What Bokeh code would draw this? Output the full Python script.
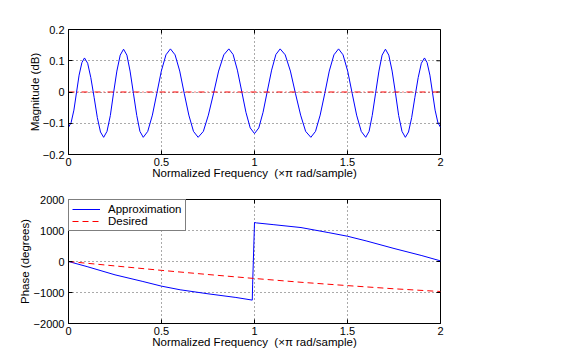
import math
from bokeh.plotting import figure
from bokeh.layouts import column
from bokeh.models import Range1d, FixedTicker, Legend, LegendItem
from bokeh.embed import file_html
from bokeh.resources import INLINE

# ---------------- data ----------------
freq_mag = [
    0.000, 0.014, 0.029, 0.043, 0.057, 0.072, 0.086,
    0.103, 0.120, 0.138, 0.155, 0.172, 0.189,
    0.207, 0.225, 0.242, 0.260, 0.278, 0.296,
    0.314, 0.331, 0.349, 0.367, 0.384, 0.402,
    0.426, 0.451, 0.475, 0.499, 0.524, 0.548,
    0.573, 0.598, 0.622, 0.647, 0.672, 0.697,
    0.725, 0.752, 0.780, 0.807, 0.835, 0.862,
    0.885, 0.908, 0.931, 0.954, 0.977, 1.000,
    1.023, 1.046, 1.069, 1.092, 1.115, 1.138,
    1.165, 1.193, 1.220, 1.248, 1.275, 1.303,
    1.328, 1.353, 1.378, 1.402, 1.427, 1.452,
    1.476, 1.501, 1.525, 1.549, 1.574, 1.598,
    1.616, 1.633, 1.651, 1.669, 1.686, 1.704,
    1.722, 1.740, 1.758, 1.775, 1.793, 1.811,
    1.828, 1.845, 1.862, 1.880, 1.897, 1.914,
    1.928, 1.943, 1.957, 1.971, 1.986, 2.000,
]
mag_db = [
    -0.113, -0.098, -0.058, -0.002, 0.054, 0.094, 0.109,
    0.092, 0.046, -0.018, -0.082, -0.128, -0.145,
    -0.126, -0.075, -0.004, 0.067, 0.118, 0.137,
    0.118, 0.067, -0.004, -0.075, -0.126, -0.145,
    -0.126, -0.074, -0.004, 0.067, 0.119, 0.138,
    0.119, 0.067, -0.004, -0.074, -0.126, -0.145,
    -0.126, -0.074, -0.004, 0.067, 0.119, 0.138,
    0.120, 0.070, 0.003, -0.065, -0.115, -0.133,
    -0.115, -0.065, 0.003, 0.070, 0.120, 0.138,
    0.119, 0.067, -0.004, -0.074, -0.126, -0.145,
    -0.126, -0.074, -0.004, 0.067, 0.119, 0.138,
    0.119, 0.067, -0.004, -0.074, -0.126, -0.145,
    -0.126, -0.075, -0.004, 0.067, 0.118, 0.137,
    0.118, 0.067, -0.004, -0.075, -0.126, -0.145,
    -0.128, -0.082, -0.018, 0.046, 0.092, 0.109,
    0.094, 0.054, -0.002, -0.058, -0.098, -0.113,
]
freq_mag_desired = [0.0, 2.0]
mag_desired = [0.0, 0.0]

freq_phase = [0.0, 0.1, 0.25, 0.4, 0.5, 0.6, 0.75, 0.9, 0.988, 0.99,
              1.0, 1.01, 1.1, 1.25, 1.4, 1.5, 1.6, 1.75, 1.9, 2.0]
phase_approx = [0, -165, -430, -645, -795, -912, -1042, -1160, -1245, -730,
                1258, 1245, 1190, 1095, 930, 815, 665, 420, 190, 20]

freq_desired = [0.0, 0.25, 0.5, 0.75, 1.0, 1.25, 1.5, 1.75, 2.0]
phase_desired = [0, -143, -286, -420, -548, -670, -778, -880, -968]

x_ticks = [0, 0.5, 1, 1.5, 2]
x_tick_labels = ["0", "0.5", "1", "1.5", "2"]
mag_ticks = [-0.2, -0.1, 0, 0.1, 0.2]
mag_tick_labels = ["\u22120.2", "\u22120.1", "0", "0.1", "0.2"]
phase_ticks = [-2000, -1000, 0, 1000, 2000]
phase_tick_labels = ["\u22122000", "\u22121000", "0", "1000", "2000"]

xlabel = "Normalized Frequency\u00a0 (\u00d7\u03c0 rad/sample)"

FONT = "Liberation Sans"
BLUE = "#0000ff"
RED = "#ff0000"
TICK_FS = "11px"
LABEL_FS = "11.5px"
X_MIN, X_MAX = 0, 2


def make_fig(height, b_top, b_bottom, y_rng, yticks, ylabels, ylabel, ylab_standoff):
    p = figure(width=573, height=height,
               x_range=Range1d(X_MIN, X_MAX), y_range=Range1d(*y_rng),
               output_backend="svg", toolbar_location=None,
               min_border_left=68, min_border_right=133,
               min_border_top=b_top, min_border_bottom=b_bottom)
    p.background_fill_color = "white"
    p.border_fill_color = "white"
    p.outline_line_color = "black"
    p.outline_line_width = 1

    xt = FixedTicker(ticks=x_ticks)
    yt = FixedTicker(ticks=yticks)
    p.xaxis.ticker = xt
    p.yaxis.ticker = yt
    p.xgrid.ticker = xt
    p.ygrid.ticker = yt
    p.xaxis.major_label_overrides = dict(zip(x_ticks, x_tick_labels))
    p.yaxis.major_label_overrides = dict(zip(yticks, ylabels))

    for ax in (p.xaxis[0], p.yaxis[0]):
        ax.axis_line_color = "black"
        ax.major_tick_line_color = "black"
        ax.major_tick_in = 4
        ax.major_tick_out = 0
        ax.minor_tick_line_color = None
        ax.major_label_text_font = FONT
        ax.major_label_text_font_size = TICK_FS
        ax.major_label_text_color = "black"
        ax.axis_label_text_font = FONT
        ax.axis_label_text_font_size = LABEL_FS
        ax.axis_label_text_font_style = "normal"
        ax.axis_label_text_color = "black"
    p.xaxis.major_label_standoff = 3
    p.yaxis.major_label_standoff = 4
    p.xaxis.axis_label = xlabel
    p.xaxis.axis_label_standoff = -2
    p.yaxis.axis_label = ylabel
    p.yaxis.axis_label_standoff = ylab_standoff

    # box ticks on the top and right edges (clipped to the frame -> inward ticks)
    p.scatter(x_ticks, [y_rng[1]] * len(x_ticks), marker="dash", size=8,
              angle=math.pi / 2, line_color="black", line_width=1)
    p.scatter([X_MAX] * len(yticks), yticks, marker="dash", size=8,
              line_color="black", line_width=1)

    p.grid.grid_line_color = "#555555"
    p.grid.grid_line_dash = "1 3"
    p.grid.grid_line_width = 1
    return p


top = make_fig(188, 29, 34, (-0.2, 0.2), mag_ticks, mag_tick_labels,
               "Magnitude (dB)", -1)
top.line(freq_mag, mag_db, line_color=BLUE, line_width=1)
top.line(freq_mag_desired, mag_desired, line_color=RED, line_width=1,
         line_dash="6 3 1 3")

bot = make_fig(176, 11, 41, (-2000, 2000), phase_ticks, phase_tick_labels,
               "Phase (degrees)", 0)
r_app = bot.line(freq_phase, phase_approx, line_color=BLUE, line_width=1)
r_des = bot.line(freq_desired, phase_desired, line_color=RED, line_width=1,
                 line_dash="6 4")

legend = Legend(items=[LegendItem(label="Approximation", renderers=[r_app]),
                       LegendItem(label="Desired", renderers=[r_des])],
                location="top_left")
legend.margin = 0
legend.padding = 3
legend.spacing = 0
legend.glyph_width = 28
legend.glyph_height = 12
legend.label_height = 12
legend.label_standoff = 8
legend.label_text_font = FONT
legend.label_text_font_size = "11.5px"
legend.label_text_color = "black"
legend.border_line_color = "black"
legend.border_line_width = 1
legend.background_fill_color = "white"
legend.background_fill_alpha = 1.0
bot.add_layout(legend)

layout = column(top, bot, spacing=0)

open("out.html", "w").write(file_html(layout, INLINE))
